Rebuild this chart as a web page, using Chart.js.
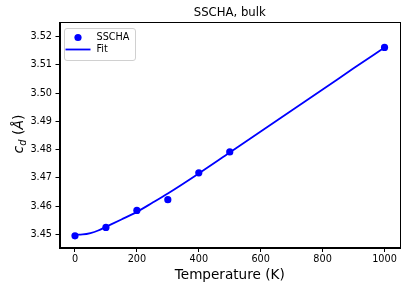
<!DOCTYPE html>
<html>
<head>
<meta charset="utf-8">
<script src="https://cdn.jsdelivr.net/npm/chart.js@4/dist/chart.umd.min.js"></script>
<style>
  html, body { margin: 0; padding: 0; background: #fff; }
  #wrap { width: 408px; height: 291px; position: relative; }
</style>
</head>
<body>
<div id="wrap"><canvas id="c" width="408" height="291"></canvas></div>
<script>
// Data
const temperatures = [0, 100, 200, 300, 400, 500, 1000];
const ssChaValues = [3.4495, 3.4525, 3.4585, 3.4623, 3.4718, 3.4792, 3.5162];
const fitTemperatures = [0, 25, 50, 75, 100, 150, 200, 250, 300, 400, 500, 600, 700, 800, 900, 1000];
const fitValues = [3.4499, 3.4500, 3.4505, 3.4514, 3.4527, 3.4553, 3.4580, 3.4612, 3.4645, 3.4716, 3.4790, 3.4864, 3.4939, 3.5013, 3.5088, 3.5162];
const xTicks = [0, 200, 400, 600, 800, 1000];
const yTicks = [3.45, 3.46, 3.47, 3.48, 3.49, 3.50, 3.51, 3.52];
const titleText = 'SSCHA, bulk';
const xLabel = 'Temperature (K)';
const legendLabels = ['SSCHA', 'Fit'];

const BLUE = '#0000ff';
const FONT = 'DejaVu Sans';

const pointsData = temperatures.map((t, i) => ({ x: t, y: ssChaValues[i] }));
const fitData = fitTemperatures.map((t, i) => ({ x: t, y: fitValues[i] }));

const decorPlugin = {
  id: 'decor',
  afterDraw(chart) {
    const ctx = chart.ctx;
    const a = chart.chartArea;
    ctx.save();
    // frame
    ctx.strokeStyle = '#000';
    ctx.lineWidth = 1;
    ctx.strokeRect(Math.round(a.left) + 0.5, Math.round(a.top) + 0.5,
                   Math.round(a.right - a.left) - 1, Math.round(a.bottom - a.top) - 1);
    // title
    ctx.fillStyle = '#000';
    ctx.font = '11.7px "' + FONT + '"';
    ctx.textAlign = 'center';
    ctx.textBaseline = 'middle';
    ctx.fillText(titleText, (a.left + a.right) / 2, 12.5);
    // x label
    ctx.font = '13.6px "' + FONT + '"';
    ctx.fillText(xLabel, (a.left + a.right) / 2, 275.5);
    // y label: c_d (Å) with math italic
    ctx.translate(23, (a.top + a.bottom) / 2 - 1);
    ctx.rotate(-Math.PI / 2);
    const parts = [
      { t: 'c', f: 'italic 14px "' + FONT + '"', dy: 0 },
      { t: 'd', f: 'italic 9.8px "' + FONT + '"', dy: 3 },
      { t: ' (', f: '14px "' + FONT + '"', dy: 0 },
      { t: 'Å', f: 'italic 14px "' + FONT + '"', dy: 0 },
      { t: ')', f: '14px "' + FONT + '"', dy: 0 }
    ];
    let total = 0;
    parts.forEach(p => { ctx.font = p.f; p.w = ctx.measureText(p.t).width; total += p.w; });
    let x = -total / 2;
    ctx.textAlign = 'left';
    ctx.textBaseline = 'alphabetic';
    parts.forEach(p => { ctx.font = p.f; ctx.fillText(p.t, x, p.dy); x += p.w; });
    ctx.restore();

    // legend
    ctx.save();
    const lx = 64.5, ly = 28.5, lw = 71, lh = 32, r = 2.5;
    ctx.beginPath();
    ctx.moveTo(lx + r, ly);
    ctx.lineTo(lx + lw - r, ly);
    ctx.quadraticCurveTo(lx + lw, ly, lx + lw, ly + r);
    ctx.lineTo(lx + lw, ly + lh - r);
    ctx.quadraticCurveTo(lx + lw, ly + lh, lx + lw - r, ly + lh);
    ctx.lineTo(lx + r, ly + lh);
    ctx.quadraticCurveTo(lx, ly + lh, lx, ly + lh - r);
    ctx.lineTo(lx, ly + r);
    ctx.quadraticCurveTo(lx, ly, lx + r, ly);
    ctx.closePath();
    ctx.fillStyle = 'rgba(255,255,255,0.8)';
    ctx.fill();
    ctx.strokeStyle = '#d0d0d0';
    ctx.lineWidth = 1;
    ctx.stroke();
    ctx.fillStyle = BLUE;
    ctx.beginPath();
    ctx.arc(78, 37.5, 3.6, 0, Math.PI * 2);
    ctx.fill();
    ctx.strokeStyle = BLUE;
    ctx.lineWidth = 1.8;
    ctx.beginPath();
    ctx.moveTo(65.5, 49.5);
    ctx.lineTo(90.5, 49.5);
    ctx.stroke();
    ctx.fillStyle = '#000';
    ctx.font = '9.7px "' + FONT + '"';
    ctx.textAlign = 'left';
    ctx.textBaseline = 'middle';
    ctx.fillText(legendLabels[0], 96.5, 37.5);
    ctx.fillText(legendLabels[1], 96.5, 49.5);
    ctx.restore();
  }
};

new Chart(document.getElementById('c'), {
  type: 'scatter',
  data: {
    datasets: [
      {
        label: legendLabels[1],
        data: fitData,
        showLine: true,
        borderColor: BLUE,
        borderWidth: 1.8,
        pointRadius: 0,
        cubicInterpolationMode: 'monotone',
        fill: false,
        order: 2
      },
      {
        label: legendLabels[0],
        data: pointsData,
        showLine: false,
        backgroundColor: BLUE,
        borderColor: BLUE,
        pointRadius: 3.6,
        pointBorderWidth: 0,
        order: 1
      }
    ]
  },
  options: {
    responsive: false,
    animation: false,
    devicePixelRatio: 1,
    layout: { padding: { top: 22, right: 8, left: 0, bottom: 0 } },
    plugins: { legend: { display: false }, title: { display: false }, tooltip: { enabled: false } },
    scales: {
      x: {
        type: 'linear',
        min: -50, max: 1050,
        afterBuildTicks: s => { s.ticks = xTicks.map(v => ({ value: v })); },
        afterFit: s => { s.height = 43; },
        grid: { drawOnChartArea: false, drawTicks: true, tickLength: 4, color: '#000', tickWidth: 1 },
        border: { display: true, color: '#000', width: 1 },
        ticks: { color: '#000', font: { family: FONT, size: 9.7 }, padding: 2, maxRotation: 0,
                 callback: v => String(v) }
      },
      y: {
        type: 'linear',
        min: 3.4452, max: 3.5252,
        afterBuildTicks: s => { s.ticks = yTicks.map(v => ({ value: v })); },
        afterFit: s => { s.width = 59.5; },
        grid: { drawOnChartArea: false, drawTicks: true, tickLength: 4, color: '#000', tickWidth: 1 },
        border: { display: true, color: '#000', width: 1 },
        ticks: { color: '#000', font: { family: FONT, size: 9.7 }, padding: 3.5,
                 callback: v => Number(v).toFixed(2) }
      }
    }
  },
  plugins: [decorPlugin]
});
</script>
</body>
</html>
